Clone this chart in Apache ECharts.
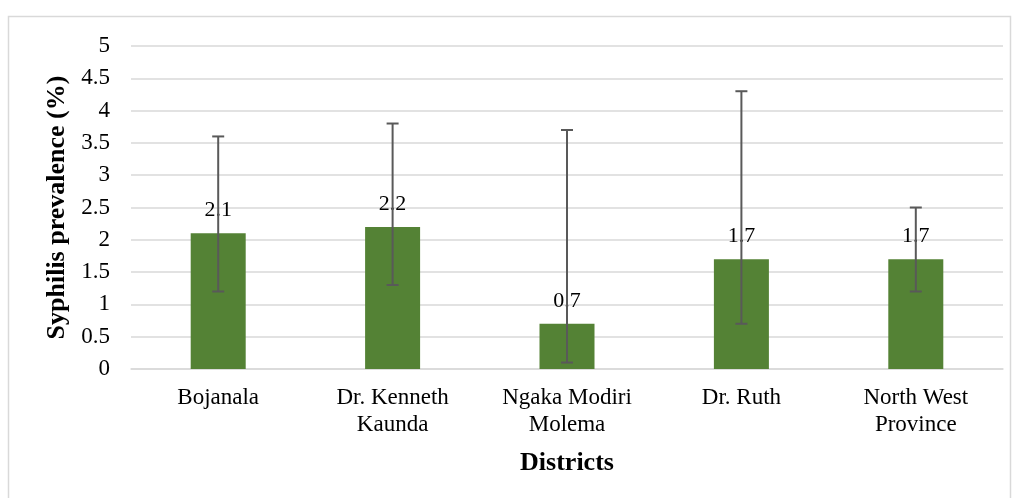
<!DOCTYPE html>
<html>
<head>
<meta charset="utf-8">
<script src="https://cdn.jsdelivr.net/npm/echarts@6/dist/echarts.min.js"></script>
<style>
  html, body { margin: 0; padding: 0; background: #fff; }
  #chart { width: 1019px; height: 498px; }
</style>
</head>
<body>
<div id="chart"></div>
<script>
const districts = ['Bojanala', 'Dr. Kenneth\nKaunda', 'Ngaka Modiri\nMolema', 'Dr. Ruth', 'North West\nProvince'];
const prevalence = [2.1, 2.2, 0.7, 1.7, 1.7];
const ciLow = [1.2, 1.3, 0.1, 0.7, 1.2];
const ciHigh = [3.6, 3.8, 3.7, 4.3, 2.5];

const chart = echarts.init(document.getElementById('chart'));
const font = '"Liberation Serif", "Times New Roman", serif';

const errData = districts.map((d, i) => [i, ciLow[i], ciHigh[i]]);

chart.setOption({
  animation: false,
  graphic: [{
    type: 'rect',
    shape: { x: 8.5, y: 16.5, width: 1002, height: 500 },
    style: { fill: 'none', stroke: '#d9d9d9', lineWidth: 1.5 },
    silent: true
  }],
  grid: { left: 131, right: 16, top: 46, bottom: 129 },
  xAxis: {
    type: 'category',
    data: districts,
    axisLine: { lineStyle: { color: '#d9d9d9', width: 1.5 } },
    axisTick: { show: false },
    axisLabel: { fontFamily: font, fontSize: 23, color: '#000', lineHeight: 27, margin: 15 },
    name: 'Districts',
    nameLocation: 'middle',
    nameGap: 81,
    nameTextStyle: { fontFamily: font, fontSize: 26, fontWeight: 'bold', color: '#000' }
  },
  yAxis: {
    type: 'value',
    min: 0, max: 5, interval: 0.5,
    axisLine: { show: false },
    axisTick: { show: false },
    splitLine: { lineStyle: { color: '#d9d9d9', width: 1.5 } },
    axisLabel: { fontFamily: font, fontSize: 23, color: '#000', margin: 21 },
    name: 'Syphilis prevalence (%)',
    nameLocation: 'middle',
    nameGap: 58,
    nameTextStyle: { fontFamily: font, fontSize: 26, fontWeight: 'bold', color: '#000' }
  },
  series: [
    {
      type: 'bar',
      data: prevalence,
      barWidth: 55,
      itemStyle: { color: '#548235' },
      label: {
        show: true,
        position: 'top',
        distance: 12,
        fontFamily: font,
        fontSize: 22,
        color: '#000'
      },
      z: 2
    },
    {
      type: 'custom',
      data: errData,
      z: 3,
      renderItem: function (params, api) {
        const x = api.value(0);
        const lo = api.coord([x, api.value(1)]);
        const hi = api.coord([x, api.value(2)]);
        const cap = 6;
        const style = { stroke: '#595959', lineWidth: 2 };
        return {
          type: 'group',
          children: [
            { type: 'line', shape: { x1: hi[0], y1: hi[1], x2: lo[0], y2: lo[1] }, style: style },
            { type: 'line', shape: { x1: hi[0] - cap, y1: hi[1], x2: hi[0] + cap, y2: hi[1] }, style: style },
            { type: 'line', shape: { x1: lo[0] - cap, y1: lo[1], x2: lo[0] + cap, y2: lo[1] }, style: style }
          ]
        };
      }
    }
  ]
});
</script>
</body>
</html>
